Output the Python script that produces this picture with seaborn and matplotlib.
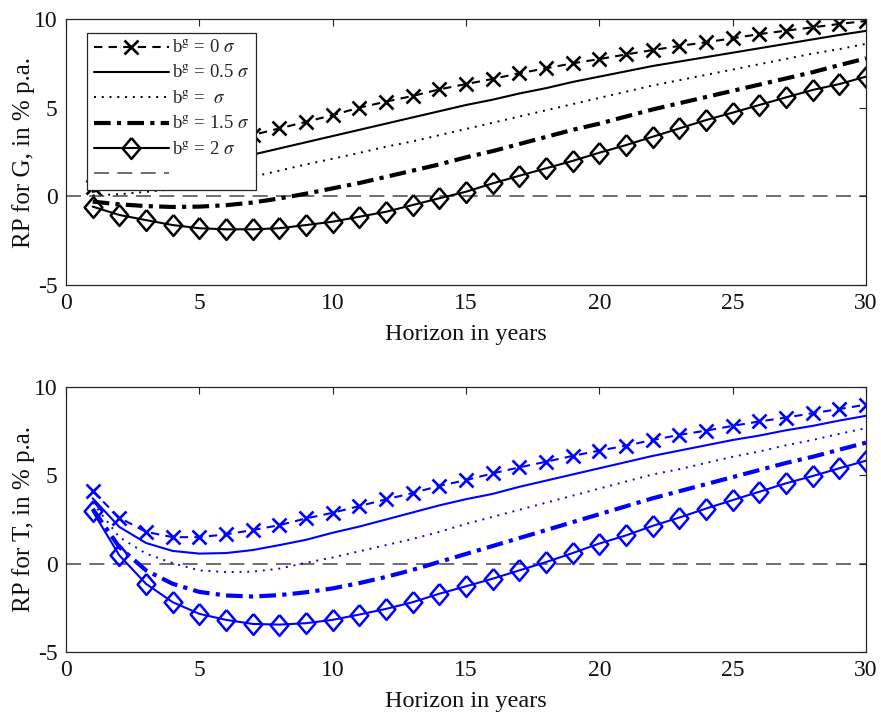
import numpy as np
import pandas as pd
import matplotlib
matplotlib.use("Agg")
import matplotlib.pyplot as plt
import seaborn as sns
from matplotlib.lines import Line2D

# ---------------- data ----------------
horizon = list(range(1, 31))

g_b0 = [0.5, 1.1, 1.65, 2.15, 2.6, 3.05, 3.46, 3.83, 4.2, 4.58, 5.0, 5.34, 5.66, 6.03, 6.33,
        6.62, 6.94, 7.22, 7.5, 7.74, 8.0, 8.25, 8.48, 8.69, 8.91, 9.15, 9.34, 9.53, 9.72, 9.89]
g_b05 = [0.25, 0.6, 0.95, 1.3, 1.65, 2.0, 2.35, 2.7, 3.05, 3.4, 3.75, 4.1, 4.45, 4.8, 5.15,
         5.45, 5.8, 6.1, 6.45, 6.75, 7.05, 7.35, 7.6, 7.85, 8.1, 8.35, 8.6, 8.85, 9.1, 9.33]
g_b1 = [0.05, 0.12, 0.25, 0.4, 0.6, 0.85, 1.1, 1.45, 1.8, 2.12, 2.45, 2.8, 3.1, 3.45, 3.8,
        4.15, 4.5, 4.85, 5.2, 5.55, 5.9, 6.25, 6.55, 6.85, 7.15, 7.45, 7.75, 8.05, 8.3, 8.6]
g_b15 = [-0.3, -0.45, -0.55, -0.6, -0.58, -0.5, -0.35, -0.12, 0.15, 0.45, 0.75, 1.1, 1.45, 1.8, 2.2,
         2.55, 2.95, 3.35, 3.75, 4.1, 4.5, 4.9, 5.25, 5.6, 5.95, 6.3, 6.65, 7.0, 7.4, 7.78]
g_b2 = [-0.58, -1.05, -1.34, -1.62, -1.8, -1.86, -1.86, -1.8, -1.62, -1.43, -1.15, -0.87, -0.49, -0.11, 0.26,
        0.73, 1.16, 1.58, 2.0, 2.46, 2.89, 3.36, 3.83, 4.3, 4.72, 5.15, 5.58, 6.0, 6.33, 6.75]

t_b0 = [4.1, 2.6, 1.8, 1.5, 1.5, 1.66, 1.9, 2.18, 2.56, 2.88, 3.26, 3.64, 4.0, 4.4, 4.73,
        5.11, 5.45, 5.77, 6.1, 6.4, 6.68, 7.0, 7.29, 7.53, 7.8, 8.05, 8.27, 8.52, 8.75, 9.0]
t_b05 = [3.7, 2.08, 1.17, 0.72, 0.57, 0.6, 0.77, 1.05, 1.35, 1.75, 2.1, 2.5, 2.9, 3.3, 3.65,
         3.95, 4.35, 4.7, 5.05, 5.4, 5.75, 6.1, 6.4, 6.7, 7.0, 7.25, 7.55, 7.8, 8.1, 8.37]
t_b1 = [3.45, 1.5, 0.57, 0.03, -0.38, -0.48, -0.45, -0.28, 0.05, 0.35, 0.7, 1.05, 1.4, 1.8, 2.25,
        2.65, 3.05, 3.45, 3.85, 4.25, 4.65, 5.05, 5.35, 5.7, 6.05, 6.35, 6.7, 7.0, 7.35, 7.67]
t_b15 = [3.1, 0.94, -0.38, -1.14, -1.6, -1.8, -1.86, -1.78, -1.62, -1.4, -1.1, -0.75, -0.35, 0.1, 0.55,
         1.0, 1.45, 1.9, 2.35, 2.8, 3.25, 3.7, 4.1, 4.5, 4.9, 5.3, 5.7, 6.05, 6.45, 6.85]
t_b2 = [2.97, 0.47, -1.14, -2.18, -2.84, -3.18, -3.41, -3.45, -3.37, -3.18, -2.88, -2.56, -2.18, -1.7, -1.28,
        -0.85, -0.38, 0.09, 0.6, 1.14, 1.6, 2.14, 2.61, 3.12, 3.6, 4.07, 4.55, 4.96, 5.4, 5.83]

series_labels = [r'b$^{\rm g}$ = 0 $\sigma$', r'b$^{\rm g}$ = 0.5 $\sigma$',
                 r'b$^{\rm g}$ =  $\sigma$', r'b$^{\rm g}$ = 1.5 $\sigma$', r'b$^{\rm g}$ = 2 $\sigma$']
xticks = [0, 5, 10, 15, 20, 25, 30]
yticks = [-5, 0, 5, 10]
ylabel_top = 'RP for G, in % p.a.'
ylabel_bot = 'RP for T, in % p.a.'
xlabel = 'Horizon in years'

# ---------------- style ----------------
sns.set_theme(style="white")
plt.rcParams['font.family'] = ['Liberation Serif', 'DejaVu Serif']
plt.rcParams['mathtext.fontset'] = 'stix'

diamond = [(0, 1), (0.85, 0), (0, -1), (-0.85, 0), (0, 1)]
styles = [
    dict(linestyle=(0, (4, 3)), lw=1.5, marker='x', ms=10, mew=1.9),
    dict(linestyle='-', lw=1.5, marker=None),
    dict(linestyle=(0, (1, 3)), lw=1.4, marker=None),
    dict(linestyle=(0, (4, 1.5, 1, 1.5)), lw=3.0, marker=None),
    dict(linestyle='-', lw=1.5, marker=diamond, ms=15, mew=1.8, mfc='none'),
]

fig = plt.figure(figsize=(8.81, 7.14), dpi=100)
ax1 = fig.add_axes([66 / 881, 1 - 285 / 714, 800 / 881, 266 / 714])
ax2 = fig.add_axes([66 / 881, 1 - 652 / 714, 800 / 881, 265 / 714])

spine_col = '#262626'


def draw(ax, data, color, ylab):
    for vals, st, lab in zip(data, styles, series_labels):
        df = pd.DataFrame({'h': horizon, 'v': vals})
        kw = dict(st)
        mfc = kw.pop('mfc', color)
        sns.lineplot(data=df, x='h', y='v', ax=ax, color=color, markerfacecolor=mfc,
                     markeredgecolor=color, label=lab, legend=False, **kw)
    ax.axhline(0, color='#555555', lw=1.2, linestyle=(0, (9, 5)), zorder=0.5)
    ax.set_xlim(0, 30)
    ax.set_ylim(-5, 10)
    ax.set_xticks(xticks)
    ax.set_yticks(yticks)
    ax.set_xticklabels([str(v) for v in xticks])
    ax.set_yticklabels([str(v) for v in yticks])
    ax.tick_params(direction='in', top=True, right=True, length=5, width=0.8,
                   labelsize=17, colors=spine_col, labelcolor='#111111', pad=6)
    for s in ax.spines.values():
        s.set_color(spine_col)
        s.set_linewidth(0.9)
    ax.set_xlabel(xlabel, fontsize=17.5, color='#111111', labelpad=7)
    ax.set_ylabel(ylab, fontsize=18, color='#111111', labelpad=-0.5)
    return ax.get_lines()


lines1 = draw(ax1, [g_b0, g_b05, g_b1, g_b15, g_b2], 'black', ylabel_top)
draw(ax2, [t_b0, t_b05, t_b1, t_b15, t_b2], 'blue', ylabel_bot)

h = list(lines1[:5])
zero_h = Line2D([], [], color='#555555', lw=1.2, linestyle=(0, (9, 5)))
leg = ax1.legend(h + [zero_h], series_labels + [' '], loc='upper left',
                 bbox_to_anchor=(21 / 800, 1 - 14 / 266), fontsize=13.5, frameon=True,
                 fancybox=False, framealpha=1, handlelength=4.0, handletextpad=0.2,
                 borderpad=0.35, labelspacing=0.42, borderaxespad=0)
leg.get_frame().set_edgecolor(spine_col)
leg.get_frame().set_linewidth(0.9)
leg.set_zorder(10)

fig.savefig('out.png', dpi=100)
